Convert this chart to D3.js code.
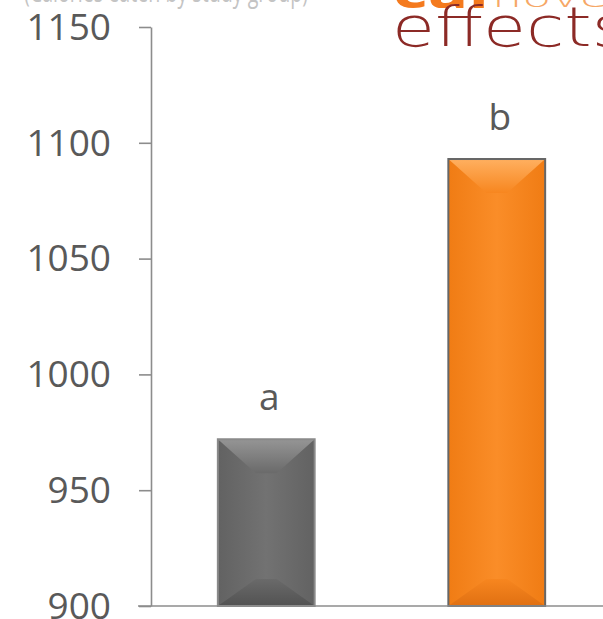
<!DOCTYPE html>
<html><head><meta charset="utf-8">
<script src="https://cdn.jsdelivr.net/npm/d3@7"></script>
<style>html,body{margin:0;padding:0;background:#fff;overflow:hidden}</style>
</head><body>
<svg id="c" width="603" height="619"></svg>
<script>
const categories = ["Group A", "Group B"];
const values = [972, 1093];
const letters = ["a", "b"];
const yTicks = [900, 950, 1000, 1050, 1100, 1150];

const svg = d3.select("#c");
const font = "'Open Sans', 'Noto Sans', sans-serif";

const y = d3.scaleLinear().domain([900, 1150]).range([606, 27]);
const x = d3.scaleBand().domain(categories).range([151, 612]).paddingInner(0.58).paddingOuter(0.29);

const defs = svg.append("defs");
const themes = [
  {base:"#6a6a6a", light:"#959595", dark:"#525252", side:"#626262", mid:"#727272", stroke:"#8a8a8a"},
  {base:"#f7861f", light:"#ffb060", dark:"#e07012", side:"#f07c14", mid:"#fa8d28", stroke:"#666666"}
];
themes.forEach((t,i)=>{
  const gt = defs.append("linearGradient").attr("id","top"+i).attr("x1",0).attr("y1",0).attr("x2",0).attr("y2",1);
  gt.append("stop").attr("offset","0").attr("stop-color",t.light);
  gt.append("stop").attr("offset","1").attr("stop-color",t.base);
  const gb = defs.append("linearGradient").attr("id","bot"+i).attr("x1",0).attr("y1",0).attr("x2",0).attr("y2",1);
  gb.append("stop").attr("offset","0").attr("stop-color",t.base);
  gb.append("stop").attr("offset","1").attr("stop-color",t.dark);
  const gh = defs.append("linearGradient").attr("id","hor"+i).attr("x1",0).attr("y1",0).attr("x2",1).attr("y2",0);
  gh.append("stop").attr("offset","0").attr("stop-color",t.side);
  gh.append("stop").attr("offset","0.5").attr("stop-color",t.mid);
  gh.append("stop").attr("offset","1").attr("stop-color",t.side);
});

// top-left cut-off caption
svg.append("text").attr("x",24).attr("y",2).attr("font-family",font).attr("font-size",30)
  .attr("fill","#c4c4c4").attr("textLength",284).attr("lengthAdjust","spacingAndGlyphs")
  .text("(Calories eaten by study group)");

// logo
svg.append("text").attr("x",393).attr("y",8).attr("font-family",font).attr("font-weight",700)
  .attr("font-size",44).attr("fill","#f47a1e").attr("textLength",96).attr("lengthAdjust","spacingAndGlyphs").text("cal");
svg.append("text").attr("x",492).attr("y",7).attr("font-family","'DejaVu Sans', sans-serif").attr("font-weight",200)
  .attr("font-size",26).attr("fill","#f6a766").attr("textLength",130).attr("lengthAdjust","spacingAndGlyphs").text("novel");
svg.append("text").attr("x",392).attr("y",46).attr("font-family","'DejaVu Sans', sans-serif").attr("font-weight",200)
  .attr("font-size",56).attr("fill","#8c2a26").attr("textLength",236).attr("lengthAdjust","spacingAndGlyphs").text("effects");

// y axis
const yAxis = d3.axisLeft(y).tickValues(yTicks).tickFormat(d3.format("d")).tickSize(12).tickPadding(28).tickSizeOuter(0);
const ga = svg.append("g").attr("transform","translate(151,0)").call(yAxis);
ga.select(".domain").attr("stroke","#8c8c8c").attr("stroke-width",1.6);
ga.selectAll(".tick line").attr("stroke","#8c8c8c").attr("stroke-width",1.6);
ga.selectAll(".tick text").attr("font-family",font).attr("font-size",37).attr("fill","#595959").attr("dy","0.33em");

// bars
const bw = x.bandwidth();
const bars = svg.append("g").selectAll("g").data(categories).join("g");
bars.each(function(c,i){
  const g = d3.select(this);
  const x0 = x(c), x1 = x0 + bw, yt = y(values[i]), yb = y(900);
  const dx = 38, dtop = 34, dbot = 27;
  g.append("rect").attr("x",x0).attr("y",yt).attr("width",bw).attr("height",yb-yt).attr("fill",`url(#hor${i})`);
  g.append("polygon").attr("points",[[x0,yt],[x1,yt],[x1-dx,yt+dtop],[x0+dx,yt+dtop]].map(p=>p.join(",")).join(" "))
    .attr("fill",`url(#top${i})`);
  g.append("polygon").attr("points",[[x0,yb],[x1,yb],[x1-dx,yb-dbot],[x0+dx,yb-dbot]].map(p=>p.join(",")).join(" "))
    .attr("fill",`url(#bot${i})`);
  g.append("rect").attr("x",x0).attr("y",yt).attr("width",bw).attr("height",yb-yt)
    .attr("fill","none").attr("stroke",themes[i].stroke).attr("stroke-width",2);
  g.append("text").attr("x",x0+bw/2+3).attr("y",yt-29).attr("text-anchor","middle")
    .attr("font-family",font).attr("font-size",37).attr("fill","#595959").text(letters[i]);
});

// x baseline
svg.append("line").attr("x1",138).attr("x2",603).attr("y1",y(900)).attr("y2",y(900))
  .attr("stroke","#8c8c8c").attr("stroke-width",1.6);
</script>
</body></html>
